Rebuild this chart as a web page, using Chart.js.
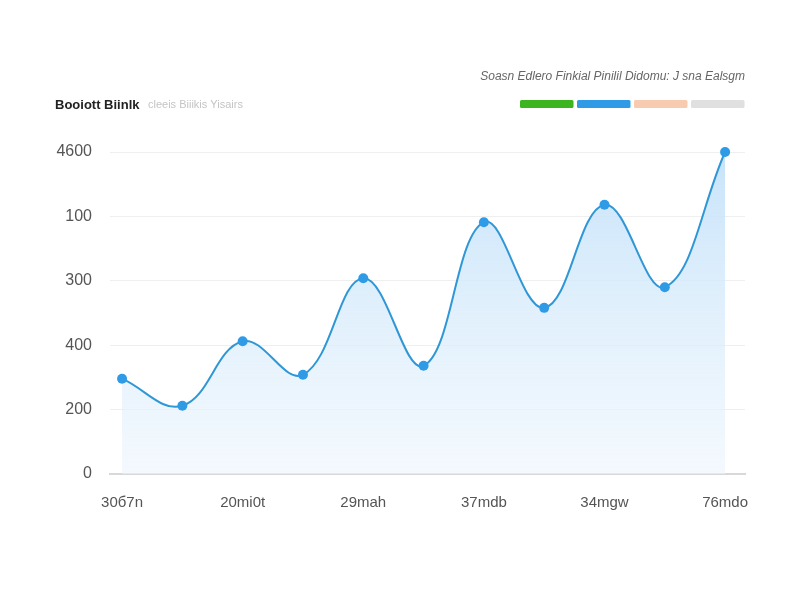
<!DOCTYPE html>
<html>
<head>
<meta charset="utf-8">
<script src="https://cdn.jsdelivr.net/npm/chart.js@4"></script>
<style>
html,body{margin:0;padding:0;background:#fff;}
#wrap{width:800px;height:600px;position:relative;}
</style>
</head>
<body>
<div id="wrap"><canvas id="c" width="800" height="600"></canvas></div>
<script>
// ---- data ----
const titleText = 'Booiott Biinlk';
const subtitleText = 'cleeis Biiikis Yisairs';
const legendText = 'Soasn Edlero Finkial Pinilil Didomu: J sna Ealsgm';
const legendColors = ['#3cb521', '#2f9be6', '#f8cbb0', '#e0e0e0'];
const xLabels = ['30б7n', '', '20mi0t', '', '29mah', '', '37mdb', '', '34mgw', '', '76mdo'];
const values = [148, 106, 206, 154, 304, 168, 391, 258, 418, 290, 500];
const yTickLabels = ['0', '200', '400', '300', '100', '4600'];

const points = values.map((v, i) => ({x: i, y: v}));

const decor = {
  id: 'decor',
  afterDraw(chart) {
    const ctx = chart.ctx;
    ctx.save();
    ctx.textBaseline = 'alphabetic';
    ctx.textAlign = 'left';
    ctx.fillStyle = '#222';
    ctx.font = 'bold 13px "Liberation Sans", Arial, sans-serif';
    ctx.fillText(titleText, 55, 109);
    ctx.fillStyle = '#c4c4c4';
    ctx.font = '11px "Liberation Sans", Arial, sans-serif';
    ctx.fillText(subtitleText, 148, 108);
    ctx.fillStyle = '#666';
    ctx.font = 'italic 12px "Liberation Sans", Arial, sans-serif';
    ctx.textAlign = 'right';
    ctx.fillText(legendText, 745, 80);
    const w = 53.5, gap = 3.5, h = 8;
    let x = 520;
    legendColors.forEach(c => {
      ctx.fillStyle = c;
      ctx.beginPath();
      ctx.roundRect(x, 100, w, h, 1.5);
      ctx.fill();
      x += w + gap;
    });
    ctx.restore();
  }
};

new Chart(document.getElementById('c'), {
  type: 'line',
  data: {
    datasets: [{
      data: points,
      clip: false,
      borderColor: '#2f97d6',
      borderWidth: 2,
      tension: 0.4,
      pointRadius: 5,
      pointHoverRadius: 5,
      pointBackgroundColor: '#2f9be6',
      pointBorderColor: '#2f9be6',
      pointBorderWidth: 0,
      fill: 'origin',
      backgroundColor: (ctx) => {
        const ch = ctx.chart;
        const a = ch.chartArea;
        if (!a) return 'rgba(200,228,250,0.5)';
        const g = ch.ctx.createLinearGradient(0, a.top, 0, a.bottom);
        g.addColorStop(0, 'rgba(196,226,250,0.95)');
        g.addColorStop(0.5, 'rgba(215,235,251,0.75)');
        g.addColorStop(1, 'rgba(236,245,253,0.6)');
        return g;
      }
    }]
  },
  options: {
    responsive: false,
    animation: false,
    layout: {padding: {left: 30, right: 55, top: 152, bottom: 76}},
    plugins: {legend: {display: false}, tooltip: {enabled: false}},
    scales: {
      x: {
        type: 'linear',
        min: -0.2,
        max: 10.33,
        afterFit(s) { s.height = 50; },
        ticks: {
          stepSize: 2,
          includeBounds: false,
          autoSkip: false,
          maxRotation: 0,
          padding: 20,
          color: '#555',
          font: {family: '"Liberation Sans", Arial, sans-serif', size: 15},
          callback: (v) => xLabels[v] || ''
        },
        grid: {display: false, drawTicks: false},
        border: {display: true, color: '#d8d8d8', width: 2}
      },
      y: {
        min: 0,
        max: 500,
        afterFit(s) { s.width = 80; },
        ticks: {
          stepSize: 100,
          padding: 18,
          color: '#555',
          font: {family: '"Liberation Sans", Arial, sans-serif', size: 16},
          callback: (v) => yTickLabels[Math.round(v / 100)]
        },
        grid: {color: '#efefef', drawTicks: false, lineWidth: 1},
        border: {display: false}
      }
    }
  },
  plugins: [decor]
});
</script>
</body>
</html>
